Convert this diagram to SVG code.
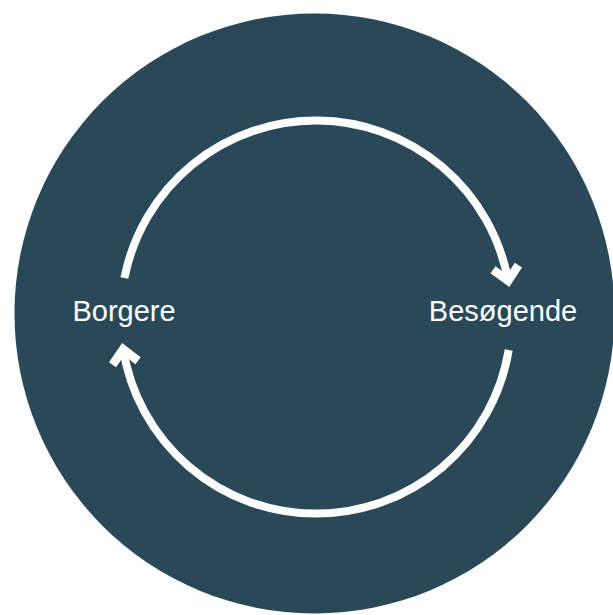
<svg xmlns="http://www.w3.org/2000/svg" width="613" height="615" viewBox="0 0 613 615">
  <style>
    .arc { fill: none; stroke: #ffffff; stroke-width: 8; stroke-linecap: butt; }
    .label { font-family: "Liberation Sans", Arial, sans-serif; font-size: 29px; fill: #ffffff; text-anchor: middle; }
  </style>
  <defs>
    <marker id="chev" markerUnits="userSpaceOnUse" viewBox="-26 -18 28 36" refX="-6" refY="0" markerWidth="28" markerHeight="36" orient="auto" overflow="visible">
      <polygon points="0,0 -17,-16 -23,-9.8 -12.6,0 -23,9.8 -17,16" fill="#ffffff"/>
    </marker>
    <filter id="tex" x="0" y="0" width="100%" height="100%">
      <feTurbulence type="fractalNoise" baseFrequency="0.9" numOctaves="2" seed="3" result="n"/>
      <feColorMatrix in="n" type="matrix" values="0 0 0 0 0  0 0 0 0 0  0 0 0 0 0  0 0 0 0.1 0" result="dark"/>
      <feComposite in="dark" in2="SourceGraphic" operator="in" result="d2"/>
      <feMerge><feMergeNode in="SourceGraphic"/><feMergeNode in="d2"/></feMerge>
    </filter>
  </defs>
  <rect width="613" height="615" fill="#ffffff"/>
  <g id="background">
    <circle cx="314.5" cy="313.5" r="300" fill="#2f4b5b" filter="url(#tex)"/>
  </g>
  <g id="connectors">
    <path class="arc" d="M 124.4 278 A 195.3 195.3 0 0 1 508.2 281.2" marker-end="url(#chev)"/>
    <path class="arc" d="M 508.7 350 A 195.3 195.3 0 0 1 123.1 348.9" marker-end="url(#chev)"/>
  </g>
  <g id="borgere">
    <text class="label" x="124" y="321">Borgere</text>
  </g>
  <g id="besogende">
    <text class="label" x="503" y="321">Besøgende</text>
  </g>
</svg>
